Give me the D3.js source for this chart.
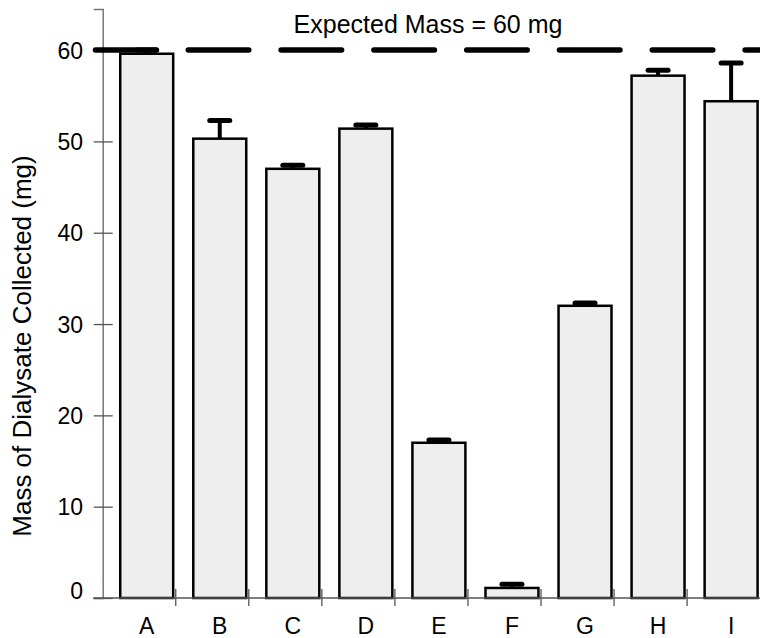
<!DOCTYPE html>
<html>
<head>
    <meta charset="utf-8">
    <title>Mass of Dialysate Collected</title>
    <style>
        body { margin: 0; background: #fff; }
        text { font-family: "Liberation Sans", Arial, Helvetica, sans-serif; }
    </style>
</head>
<body>
<div class="plot_container"></div>
<script src="https://cdn.jsdelivr.net/npm/d3@7"></script>
<script type="text/javascript">
    // data
    var categories = ["A", "B", "C", "D", "E", "F", "G", "H", "I"];
    var masses = [59.6, 50.3, 47.0, 51.4, 17.0, 1.1, 32.0, 57.2, 54.4];
    var errors = [0.4, 2.0, 0.4, 0.4, 0.3, 0.4, 0.3, 0.6, 4.2];
    var yTicks = [0, 10, 20, 30, 40, 50, 60];
    var expectedMass = 60;

    var width = 760;
    var height = 638;
    var plotLeft = 102.7, plotRight = 760, plotTop = 9, plotBottom = 598;

    var svg = d3.select(".plot_container").append("svg")
            .attr("width", width)
            .attr("height", height);

    var x = d3.scaleBand()
            .domain(categories)
            .range([plotLeft, plotLeft + 9 * 73.05])
            .padding(0);
    var bw = x.bandwidth();
    // bars sit towards the right of each band
    function barLeft(c){ return x(c) + bw * 0.24; }
    var barW = bw * 0.725;
    function barMid(c){ return barLeft(c) + barW / 2; }

    var y = d3.scaleLinear()
            .domain([0, 64.5])
            .range([plotBottom, plotTop]);

    var rows = categories.map(function(c, i){
        return {cat: c, value: masses[i], err: errors[i]};
    });

    // bars
    svg.selectAll(".bar")
            .data(rows)
            .enter()
            .append("rect")
            .attr("class", "bar")
            .attr("x", function(d){ return barLeft(d.cat); })
            .attr("y", function(d){ return y(d.value); })
            .attr("width", barW)
            .attr("height", function(d){ return y(0) - y(d.value); })
            .style("fill", "#eeeeee")
            .style("stroke", "black")
            .style("stroke-width", 2.5);

    // error bars (upper only)
    svg.selectAll(".err-stem")
            .data(rows)
            .enter()
            .append("line")
            .attr("class", "err-stem")
            .attr("x1", function(d){ return barMid(d.cat); })
            .attr("x2", function(d){ return barMid(d.cat); })
            .attr("y1", function(d){ return y(d.value); })
            .attr("y2", function(d){ return y(d.value + d.err); })
            .style("stroke", "black")
            .style("stroke-width", 4);

    svg.selectAll(".err-cap")
            .data(rows)
            .enter()
            .append("line")
            .attr("class", "err-cap")
            .attr("x1", function(d){ return barMid(d.cat) - 10; })
            .attr("x2", function(d){ return barMid(d.cat) + 10; })
            .attr("y1", function(d){ return y(d.value + d.err); })
            .attr("y2", function(d){ return y(d.value + d.err); })
            .style("stroke", "black")
            .style("stroke-width", 5)
            .style("stroke-linecap", "round");

    // y axis
    var yAxis = svg.append("g")
            .attr("transform", "translate(" + plotLeft + ",0)")
            .call(d3.axisLeft(y).tickValues(yTicks).tickSizeOuter(0).tickSize(9));
    yAxis.select(".domain").style("stroke", "#777").style("stroke-width", 1.5);
    yAxis.selectAll(".tick line")
            .attr("x1", 10)
            .style("stroke", "#555")
            .style("stroke-width", 1.3);
    yAxis.selectAll(".tick text")
            .attr("x", -19.7)
            .attr("dy", function(d){ return d === 0 ? "0em" : "0.35em"; })
            .style("font-size", "23px")
            .style("fill", "black")
            .style("font-family", "'Liberation Sans', Arial, sans-serif");

    // x axis: baseline, ticks between categories, labels under bars
    svg.append("line")
            .attr("x1", plotLeft - 9.5)
            .attr("x2", plotRight)
            .attr("y1", y(0))
            .attr("y2", y(0))
            .style("stroke", "#555")
            .style("stroke-width", 1.5);

    svg.selectAll(".xtick")
            .data(categories.slice(1))
            .enter()
            .append("line")
            .attr("class", "xtick")
            .attr("x1", function(d){ return x(d); })
            .attr("x2", function(d){ return x(d); })
            .attr("y1", y(0) - 9)
            .attr("y2", y(0) + 8)
            .style("stroke", "#555")
            .style("stroke-width", 1.3);

    svg.selectAll(".xlabel")
            .data(categories)
            .enter()
            .append("text")
            .attr("class", "xlabel")
            .attr("x", function(d){ return barMid(d); })
            .attr("y", 634)
            .attr("text-anchor", "middle")
            .style("font-size", "23px")
            .text(function(d){ return d; });

    // expected mass reference line
    svg.append("line")
            .attr("x1", plotLeft - 7.2)
            .attr("x2", plotRight + 10)
            .attr("y1", y(expectedMass))
            .attr("y2", y(expectedMass))
            .style("stroke", "black")
            .style("stroke-width", 5.5)
            .style("stroke-linecap", "round")
            .style("stroke-dasharray", "60.5,32.3");

    svg.append("text")
            .attr("x", 428)
            .attr("y", 33)
            .attr("text-anchor", "middle")
            .style("font-size", "25px")
            .text("Expected Mass = " + expectedMass + " mg");

    svg.append("text")
            .attr("transform", "translate(31,346) rotate(-90)")
            .attr("text-anchor", "middle")
            .style("font-size", "26px")
            .text("Mass of Dialysate Collected (mg)");
</script>
</body>
</html>
